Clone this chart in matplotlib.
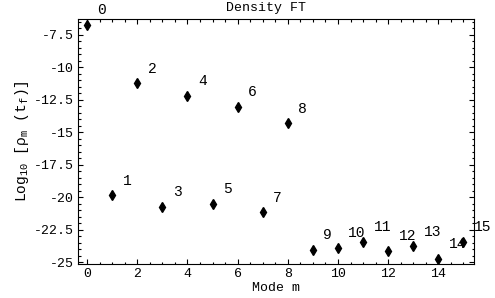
import matplotlib
matplotlib.use("Agg")
import matplotlib.pyplot as plt
from matplotlib.ticker import MultipleLocator

modes = [0, 1, 2, 3, 4, 5, 6, 7, 8, 9, 10, 11, 12, 13, 14, 15]
log_rho = [-6.73, -19.85, -11.23, -20.75, -12.18, -20.51, -13.03, -21.16,
           -14.31, -24.06, -23.90, -23.42, -24.11, -23.80, -24.73, -23.42]
point_labels = [str(m) for m in modes]

plt.rcParams["font.family"] = ["Liberation Mono", "DejaVu Sans Mono"]
plt.rcParams["mathtext.fontset"] = "custom"
plt.rcParams["mathtext.rm"] = "Liberation Mono"
plt.rcParams["mathtext.it"] = "Liberation Mono"

fig = plt.figure(figsize=(4.95, 2.98), dpi=100)
ax = fig.add_axes([78 / 495, 1 - 264 / 298, (474 - 78) / 495, (264 - 19) / 298])

ax.plot(modes, log_rho, linestyle="none", marker="d", markersize=5.5,
        color="black")
for m, v, lab in zip(modes, log_rho, point_labels):
    ax.annotate(lab, (m, v), xytext=(7.5, 10.5), textcoords="offset points",
                ha="left", va="center", fontsize=10.5)

ax.set_xlim(-0.36, 15.42)
ax.set_ylim(-25.15, -6.27)
ax.xaxis.set_major_locator(MultipleLocator(2))
ax.xaxis.set_minor_locator(MultipleLocator(0.5))
ax.yaxis.set_major_locator(MultipleLocator(2.5))
ax.yaxis.set_minor_locator(MultipleLocator(0.5))
ax.yaxis.set_major_formatter(
    matplotlib.ticker.FuncFormatter(lambda v, p: "%g" % v))
ax.tick_params(which="both", direction="in", top=True, right=True,
               labelsize=9.5, width=0.8, pad=3)
ax.tick_params(which="major", length=3.5)
ax.tick_params(which="minor", length=1.8)
for s in ax.spines.values():
    s.set_linewidth(0.8)

ax.set_xlabel("Mode m", fontsize=9.5, labelpad=1)
ax.set_ylabel(r"Log$_{10}$ [$\rho_{m}$ (t$_{f}$)]", fontsize=10.5, labelpad=2)
fig.text(266 / 495, 1 - 8 / 298, "Density FT", ha="center", va="center",
         fontsize=9.5)

fig.savefig("out.png", dpi=100)
